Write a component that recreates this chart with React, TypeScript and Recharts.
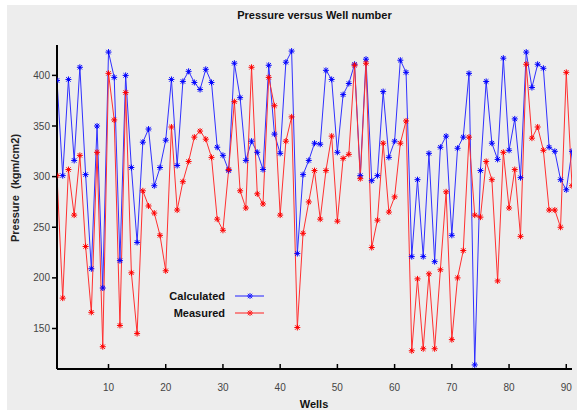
import { LineChart, Line, XAxis, YAxis, Legend } from "recharts";

const wells = [
  1, 2, 3, 4, 5, 6, 7, 8, 9, 10, 11, 12, 13, 14, 15, 16, 17, 18, 19, 20,
  21, 22, 23, 24, 25, 26, 27, 28, 29, 30, 31, 32, 33, 34, 35, 36, 37, 38, 39, 40,
  41, 42, 43, 44, 45, 46, 47, 48, 49, 50, 51, 52, 53, 54, 55, 56, 57, 58, 59, 60,
  61, 62, 63, 64, 65, 66, 67, 68, 69, 70, 71, 72, 73, 74, 75, 76, 77, 78, 79, 80,
  81, 82, 83, 84, 85, 86, 87, 88, 89, 90, 91,
];

const calculated = [
  395, 301, 396, 316, 408, 302, 209, 350, 190, 423, 398, 217, 400, 309, 235, 334, 347, 291, 309, 336,
  396, 311, 394, 404, 393, 386, 406, 393, 329, 321, 306, 412, 378, 316, 335, 324, 307, 410, 342, 323,
  413, 424, 224, 302, 316, 333, 332, 405, 396, 324, 381, 392, 411, 301, 416, 296, 301, 384, 319, 335,
  415, 403, 221, 297, 221, 323, 216, 329, 340, 242, 328, 339, 402, 114, 306, 394, 333, 317, 417, 326,
  357, 299, 423, 388, 411, 407, 329, 325, 297, 287, 325,
];

const measured = [
  301, 180, 307, 262, 321, 231, 166, 324, 132, 402, 356, 153, 383, 205, 145, 286, 271, 264, 242, 207,
  349, 267, 295, 315, 339, 345, 337, 319, 258, 247, 307, 374, 286, 269, 408, 283, 273, 398, 370, 262,
  335, 359, 151, 244, 275, 306, 258, 306, 340, 256, 318, 322, 410, 298, 412, 230, 257, 333, 265, 280,
  333, 355, 128, 199, 130, 204, 130, 208, 285, 139, 200, 227, 339, 262, 260, 315, 297, 197, 324, 269,
  307, 241, 411, 338, 349, 326, 267, 267, 250, 403, 291,
];

const xTicks = [10, 20, 30, 40, 50, 60, 70, 80, 90];
const yTicks = [150, 200, 250, 300, 350, 400];

const data = wells.map((w, i) => ({
  well: w,
  calculated: calculated[i],
  measured: measured[i],
}));

const FONT = "'Liberation Sans', Arial, sans-serif";

// little asterisk marker
const star = (color: string) => (props: any) => {
  const { cx, cy, index } = props;
  if (cx == null || cy == null) return <g key={index} />;
  const r = 3;
  const d = 2.2;
  return (
    <path
      key={index}
      d={`M${cx - r},${cy}H${cx + r}M${cx},${cy - r}V${cy + r}M${cx - d},${cy - d}L${cx + d},${cy + d}M${cx - d},${cy + d}L${cx + d},${cy - d}`}
      stroke={color}
      strokeWidth={1}
      fill="none"
    />
  );
};

const BottomTick = (props: any) => {
  const { x, y, payload } = props;
  return (
    <g>
      <line x1={x} y1={y} x2={x} y2={y - 5} stroke="#000" strokeWidth={1.5} />
      <text x={x} y={y + 22} textAnchor="middle" fontSize={10} fill="#444" fontFamily={FONT}>
        {payload.value}
      </text>
    </g>
  );
};

const TopTick = (props: any) => {
  const { x, y } = props;
  return <line x1={x} y1={y} x2={x} y2={y + 5} stroke="#000" strokeWidth={1.5} />;
};

const RightTick = (props: any) => {
  const { x, y } = props;
  return <line x1={x} y1={y} x2={x - 5} y2={y} stroke="#000" strokeWidth={1.5} />;
};

const renderLegend = () => (
  <div style={{ fontFamily: FONT, fontWeight: "bold", fontSize: 11, color: "#111" }}>
    {[
      { name: "Calculated", color: "#2020ff" },
      { name: "Measured", color: "#ff2020" },
    ].map((it) => (
      <div key={it.name} style={{ display: "flex", alignItems: "center", height: 17 }}>
        <span style={{ width: 75, textAlign: "right" }}>{it.name}</span>
        <svg width={40} height={10} style={{ marginLeft: 10 }}>
          <line x1={0} y1={5} x2={29} y2={5} stroke={it.color} strokeWidth={1} />
          {star(it.color)({ cx: 15, cy: 5, index: 0 })}
        </svg>
      </div>
    ))}
  </div>
);

export default function App() {
  return (
    <div style={{ position: "absolute", left: 0, top: 0, width: 577, height: 410, background: "#fff" }}>
      <div style={{ position: "absolute", left: 7, top: 5, width: 570, height: 405, background: "#ededed" }} />
      <div
        style={{
          position: "absolute",
          left: 57,
          width: 515,
          top: 9,
          textAlign: "center",
          fontFamily: FONT,
          fontWeight: "bold",
          fontSize: 11,
          color: "#111",
        }}
      >
        Pressure versus Well number
      </div>
      <div style={{ position: "absolute", left: 0, top: 0 }}>
        <LineChart width={577} height={410} data={data} margin={{ top: 45, right: 5, bottom: 0, left: 0 }}>
          <XAxis
            dataKey="well"
            type="number"
            domain={[1, 91]}
            ticks={xTicks}
            allowDataOverflow
            height={41}
            tickSize={0}
            tickMargin={0}
            tick={<BottomTick />}
            axisLine={{ stroke: "#000", strokeWidth: 2 }}
            label={{
              content: () => (
                <text x={314} y={408} textAnchor="middle" fontSize={11} fontWeight="bold" fill="#111" fontFamily={FONT}>
                  Wells
                </text>
              ),
            }}
          />
          <XAxis
            xAxisId="top"
            orientation="top"
            type="number"
            domain={[1, 91]}
            ticks={xTicks}
            allowDataOverflow
            height={0}
            tickSize={0}
            tickMargin={0}
            tick={<TopTick />}
            axisLine={{ stroke: "#000", strokeWidth: 2 }}
          />
          <YAxis
            type="number"
            domain={[110, 430]}
            ticks={yTicks}
            allowDataOverflow
            width={57}
            tickSize={5}
            tickMargin={2}
            tick={{ fontSize: 10, fill: "#444", fontFamily: FONT }}
            tickLine={{ stroke: "#000", strokeWidth: 1.5 }}
            axisLine={{ stroke: "#000", strokeWidth: 2 }}
            label={{
              content: () => (
                <text
                  x={19}
                  y={188}
                  transform="rotate(-90 19 188)"
                  textAnchor="middle"
                  fontSize={11}
                  fontWeight="bold"
                  fill="#222"
                  fontFamily={FONT}
                  style={{ whiteSpace: "pre" }}
                >
                  {"Pressure  (kgm/cm2)"}
                </text>
              ),
            }}
          />
          <YAxis
            yAxisId="right"
            orientation="right"
            type="number"
            domain={[110, 430]}
            ticks={yTicks}
            allowDataOverflow
            width={0}
            tickSize={0}
            tickMargin={0}
            tick={<RightTick />}
            axisLine={{ stroke: "#000", strokeWidth: 2 }}
          />
          <Legend
            layout="horizontal"
            verticalAlign="middle"
            align="center"
            content={renderLegend}
            wrapperStyle={{ left: 150, top: 287, width: 130 }}
          />
          <Line
            dataKey="calculated"
            stroke="#3030ff"
            strokeWidth={1}
            dot={star("#0000ff")}
            activeDot={false}
            isAnimationActive={false}
          />
          <Line
            dataKey="measured"
            stroke="#ff3030"
            strokeWidth={1}
            dot={star("#ff0000")}
            activeDot={false}
            isAnimationActive={false}
          />
        </LineChart>
      </div>
    </div>
  );
}
